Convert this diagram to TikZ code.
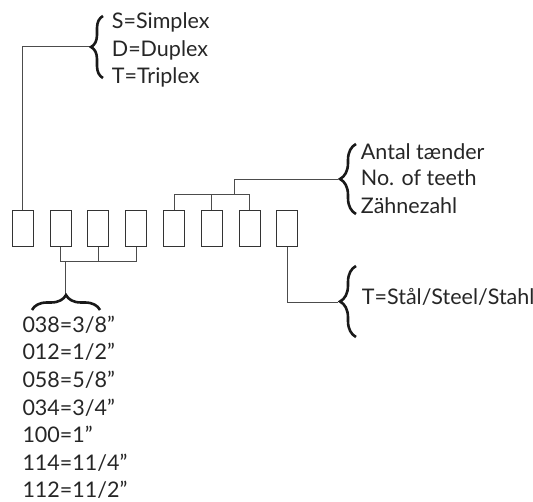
\documentclass[tikz,border=0pt]{standalone}
\usepackage{fontspec}
\setmainfont{Lato}
\usetikzlibrary{decorations.pathreplacing}
\begin{document}
\begin{tikzpicture}[x=1pt,y=-1pt,
  box/.style={draw=black!80,line width=0.9pt,minimum width=21pt,minimum height=36pt,inner sep=0pt},
  conn/.style={draw=black!70,line width=0.9pt},
  brc/.style={decorate,decoration={brace,amplitude=#1},line width=2.6pt,draw=black!90},
  lbl/.style={anchor=base west,inner sep=0pt,font=\fontsize{21.5}{25}\selectfont,text=black!85}]
\useasboundingbox (0,0) rectangle (533,502);
% boxes
\node[box] (b1) at (22.7,228.7) {};
\node[box] (b2) at (60.5,228.7) {};
\node[box] (b3) at (98.3,228.7) {};
\node[box] (b4) at (136.2,228.7) {};
\node[box] (b5) at (174.2,228.7) {};
\node[box] (b6) at (211.7,228.7) {};
\node[box] (b7) at (249.5,228.7) {};
\node[box] (b8) at (287.3,228.7) {};
% brace tips
\coordinate (t1) at (90,46.7);
\coordinate (t2) at (338,179.3);
\coordinate (t3) at (65.5,294);
\coordinate (t4) at (338,302);
\coordinate (tbar) at (0,194.3);
\coordinate (bbar) at (0,261.7);
\coordinate (tj) at (234,194.3);
\coordinate (bj) at (65.5,261.7);
% connectors
\draw[conn] (b1.north) |- (t1);
\draw[conn] (b5.north) |- (b7.north |- tbar) -- (b7.north);
\draw[conn] (b6.north) -- (b6.north |- tbar);
\draw[conn] (tj) |- (t2);
\draw[conn] (b2.south) |- (b4.south |- bbar) -- (b4.south);
\draw[conn] (b3.south) -- (b3.south |- bbar);
\draw[conn] (bj) -- (t3);
\draw[conn] (b8.south) |- (t4);
% braces
\draw[brc=12pt] (103,78) -- (103,16);
\draw[brc=16pt] (356,214) -- (356,144);
\draw[brc=16pt] (356,337) -- (356,266);
\draw[brc=15pt] (32,310) -- (100,310);
% labels
\node[lbl] (s1) at (111.7,28.3) {S=Simplex};
\node[lbl] (s2) at (111.7,56.7) {D=Duplex};
\node[lbl] (s3) at (111.7,83.3) {T=Triplex};
\node[lbl] (a1) at (360.7,159.3) {Antal tænder};
\node[lbl] (a2) at (360.7,186) {No. of teeth};
\node[lbl] (a3) at (360.7,213.3) {Zähnezahl};
\node[lbl] (m1) at (361.7,304.3) {T=Stål/Steel/Stahl};
\node[lbl] (p1) at (22.3,332.2) {038=3/8”};
\node[lbl] (p2) at (22.3,359.9) {012=1/2”};
\node[lbl] (p3) at (22.3,387.6) {058=5/8”};
\node[lbl] (p4) at (22.3,415.3) {034=3/4”};
\node[lbl] (p5) at (22.3,443.0) {100=1”};
\node[lbl] (p6) at (22.3,470.7) {114=11/4”};
\node[lbl] (p7) at (22.3,497.5) {112=11/2”};
\end{tikzpicture}
\end{document}
